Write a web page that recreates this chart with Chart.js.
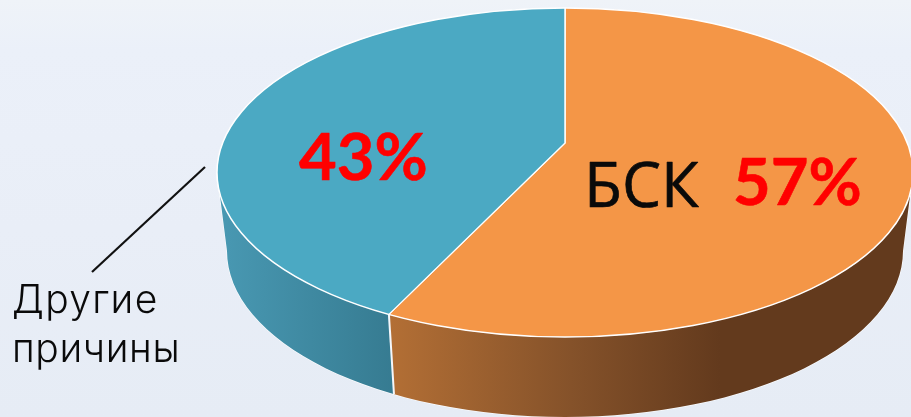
<!DOCTYPE html>
<html lang="ru">
<head>
  <meta charset="UTF-8">
  <title>БСК</title>
  <script src="https://cdn.jsdelivr.net/npm/chart.js"></script>
  <style>
    html, body { margin: 0; padding: 0; overflow: hidden; }
    body { width: 911px; height: 417px; background: linear-gradient(180deg, #eff3f8 0%, #ebf0f9 12%, #e9eef7 55%, #e6ecf5 100%); }
    canvas { display: block; }
  </style>
</head>
<body>
  <canvas id="pie" width="911" height="417"></canvas>

  <script>
    const categories = ['БСК', 'Другие причины'];
    const shares = [57, 43];
    const faceColors = ['#f49647', '#4ba9c3'];

    // top face and bottom rim of the disc
    const top3d = { cx: 565, cy: 172.5, rx: 348, ry: 164.5 };
    const rim = { cx: 565, cy: 251, rx: 338, ry: 166 };
    const apex = { x: 565, y: 143 };
    const tilt = 0.458;
    const stretch = 2.4;

    function wallPath(ctx) {
      ctx.beginPath();
      ctx.ellipse(top3d.cx, top3d.cy, top3d.rx, top3d.ry, 0, Math.PI, 0, true);
      ctx.lineTo(rim.cx + rim.rx, rim.cy);
      ctx.ellipse(rim.cx, rim.cy, rim.rx, rim.ry, 0, 0, Math.PI, false);
      ctx.closePath();
    }

    // where a slice edge leaving the apex hits the top ellipse
    function edgePoint(angle) {
      const dx = Math.cos(angle), dy = Math.sin(angle) * tilt;
      const ox = (apex.x - top3d.cx) / top3d.rx, oy = (apex.y - top3d.cy) / top3d.ry;
      const ax = dx / top3d.rx, ay = dy / top3d.ry;
      const a = ax * ax + ay * ay, b = 2 * (ox * ax + oy * ay), c = ox * ox + oy * oy - 1;
      const t = (-b + Math.sqrt(b * b - 4 * a * c)) / (2 * a);
      return { x: apex.x + dx * t, y: apex.y + dy * t };
    }

    const disc3d = {
      id: 'disc3d',
      beforeDatasetsDraw(chart) {
        const ctx = chart.ctx;
        const arc = chart.getDatasetMeta(0).data[0];
        const p = edgePoint(arc.endAngle);
        const frac = (p.x - top3d.cx) / top3d.rx;
        const bx = rim.cx + frac * rim.rx;
        const by = rim.cy + Math.sqrt(1 - frac * frac) * rim.ry;

        const blue = ctx.createLinearGradient(217, 0, bx, 0);
        blue.addColorStop(0, '#4999b3');
        blue.addColorStop(1, '#367b91');
        const brown = ctx.createLinearGradient(p.x, 0, 720, 0);
        brown.addColorStop(0, '#b36f35');
        brown.addColorStop(0.55, '#85522a');
        brown.addColorStop(1, '#633a1d');

        ctx.save();
        wallPath(ctx);
        ctx.strokeStyle = 'rgba(255,255,255,0.8)';
        ctx.lineWidth = 1.2;
        ctx.stroke();
        ctx.clip();
        ctx.fillStyle = blue;
        ctx.fillRect(0, 0, bx, 417);
        ctx.beginPath();
        ctx.moveTo(p.x, 0);
        ctx.lineTo(911, 0);
        ctx.lineTo(911, 417);
        ctx.lineTo(bx, 417);
        ctx.lineTo(bx, by);
        ctx.lineTo(p.x, p.y);
        ctx.closePath();
        ctx.fillStyle = brown;
        ctx.fill();
        ctx.beginPath();
        ctx.moveTo(p.x, p.y);
        ctx.lineTo(bx, by);
        ctx.strokeStyle = '#f4f7fb';
        ctx.lineWidth = 2;
        ctx.stroke();
        ctx.restore();

        // squash the pie into the tilted top face
        ctx.save();
        ctx.beginPath();
        ctx.ellipse(top3d.cx, top3d.cy, top3d.rx, top3d.ry, 0, 0, Math.PI * 2);
        ctx.clip();
        ctx.translate(apex.x, apex.y);
        ctx.scale(stretch, stretch * tilt);
        ctx.translate(-arc.x, -arc.y);
      },
      afterDatasetsDraw(chart) {
        const ctx = chart.ctx;
        ctx.restore();

        ctx.beginPath();
        ctx.ellipse(top3d.cx, top3d.cy, top3d.rx, top3d.ry, 0, 0, Math.PI * 2);
        ctx.strokeStyle = '#ffffff';
        ctx.lineWidth = 1.5;
        ctx.stroke();

        // leader line to the outside label
        ctx.beginPath();
        ctx.moveTo(205, 167);
        ctx.lineTo(92, 272);
        ctx.strokeStyle = '#111111';
        ctx.lineWidth = 2.2;
        ctx.stroke();

        ctx.textAlign = 'left';
        ctx.textBaseline = 'alphabetic';
        ctx.lineJoin = 'round';

        ctx.fillStyle = '#ff0000';
        ctx.strokeStyle = '#ff0000';
        ctx.lineWidth = 0.6;
        ctx.font = 'bold 65px Lato, "Open Sans", sans-serif';
        ctx.fillText(shares[1] + '%', 299, 180);
        ctx.strokeText(shares[1] + '%', 299, 180);
        ctx.fillText(shares[0] + '%', 733, 205);
        ctx.strokeText(shares[0] + '%', 733, 205);

        ctx.fillStyle = '#0a0a0a';
        ctx.strokeStyle = '#0a0a0a';
        ctx.lineWidth = 0.7;
        ctx.font = '62px "Open Sans", sans-serif';
        ctx.fillText(categories[0], 584, 207);
        ctx.strokeText(categories[0], 584, 207);

        const words = categories[1].split(' ');
        ctx.font = '300 39px Inter, sans-serif';
        ctx.letterSpacing = '1.3px';
        ctx.fillText(words[0], 12, 313);
        ctx.letterSpacing = '0.6px';
        ctx.fillText(words[1], 12, 362);
        ctx.letterSpacing = '0px';
      }
    };

    new Chart(document.getElementById('pie'), {
      type: 'pie',
      data: {
        labels: categories,
        datasets: [{
          data: shares,
          backgroundColor: faceColors,
          borderColor: '#ffffff',
          borderWidth: 0.6,
          clip: false
        }]
      },
      options: {
        responsive: false,
        animation: false,
        layout: { padding: 0 },
        plugins: { legend: { display: false }, tooltip: { enabled: false } }
      },
      plugins: [disc3d]
    });
  </script>
</body>
</html>
